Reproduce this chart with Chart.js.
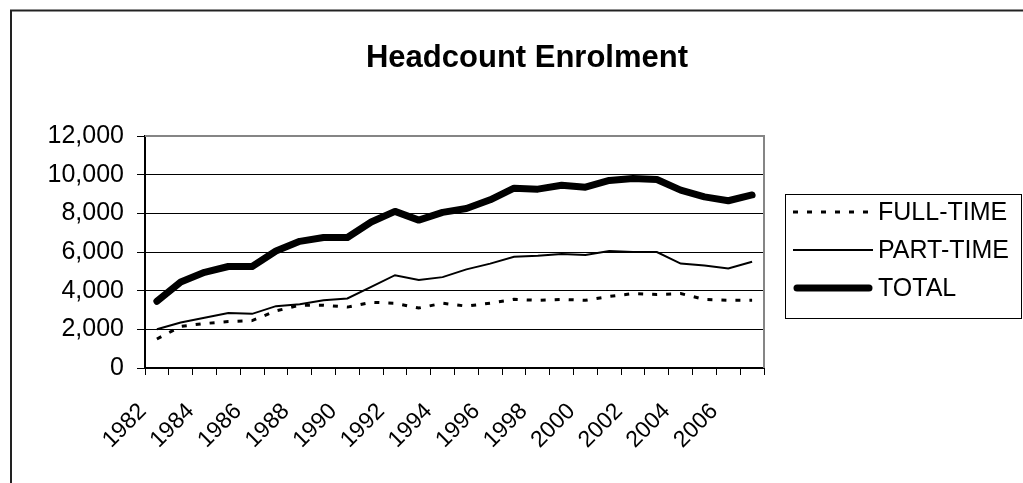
<!DOCTYPE html>
<html><head><meta charset="utf-8">
<script src="https://cdn.jsdelivr.net/npm/chart.js@4"></script>
<style>html,body{margin:0;padding:0;background:#fff;}canvas{display:block}</style>
</head><body>
<canvas id="c" width="1023" height="483"></canvas>
<script>
const years = ['1982','1983','1984','1985','1986','1987','1988','1989','1990','1991','1992','1993','1994','1995','1996','1997','1998','1999','2000','2001','2002','2003','2004','2005','2006','2007'];
const fullTime = [1500,2150,2300,2400,2450,2950,3250,3250,3150,3400,3350,3100,3350,3200,3350,3550,3500,3550,3500,3700,3850,3800,3850,3550,3500,3500];
const partTime = [2000,2350,2600,2850,2800,3200,3300,3500,3600,4200,4800,4550,4700,5100,5400,5750,5800,5900,5850,6050,6000,6000,5400,5300,5150,5500];
const total = [3450,4450,4950,5250,5250,6050,6550,6750,6750,7550,8100,7650,8050,8250,8700,9300,9250,9450,9350,9700,9800,9750,9200,8850,8650,8950];
const yTicks = [0,2000,4000,6000,8000,10000,12000];
const seriesNames = ['FULL-TIME','PART-TIME','TOTAL'];
const titleText = 'Headcount Enrolment';
const FONT = '"Liberation Sans", Arial, Helvetica, sans-serif';

const framePlugin = {
  id: 'frame',
  beforeDraw(chart) {
    const ctx = chart.ctx;
    ctx.save();
    ctx.fillStyle = '#fff';
    ctx.fillRect(0, 0, chart.width, chart.height);
    ctx.strokeStyle = '#222';
    ctx.lineWidth = 2;
    ctx.beginPath();
    ctx.moveTo(11, chart.height + 2);
    ctx.lineTo(11, 10.5);
    ctx.lineTo(chart.width + 2, 10.5);
    ctx.stroke();
    ctx.restore();
  },
  beforeDatasetsDraw(chart) {
    const a = chart.chartArea, ctx = chart.ctx;
    ctx.save();
    ctx.strokeStyle = '#858585';
    ctx.lineWidth = 2;
    ctx.beginPath();
    ctx.moveTo(a.left, a.top);
    ctx.lineTo(a.right, a.top);
    ctx.lineTo(a.right, a.bottom);
    ctx.stroke();
    ctx.restore();
  },
  afterDraw(chart) {
    const ctx = chart.ctx;
    ctx.save();
    ctx.fillStyle = '#000';
    ctx.font = 'bold 31px ' + FONT;
    ctx.textAlign = 'center';
    ctx.textBaseline = 'alphabetic';
    ctx.fillText(titleText, 527, 67);
    ctx.strokeStyle = '#000';
    ctx.lineWidth = 1;
    ctx.strokeRect(785.5, 194.5, 236, 124);
    ctx.font = '25px ' + FONT;
    ctx.textAlign = 'left';
    ctx.textBaseline = 'middle';
    chart.data.datasets.forEach((ds, i) => {
      const y = 212 + i * 38;
      ctx.save();
      ctx.strokeStyle = ds.borderColor;
      ctx.lineWidth = ds.borderWidth;
      ctx.lineCap = ds.borderCapStyle || 'butt';
      ctx.setLineDash(ds.borderDash || []);
      ctx.beginPath();
      ctx.moveTo(ds.borderCapStyle === 'round' ? 797 : 793, y);
      ctx.lineTo(ds.borderCapStyle === 'round' ? 869 : 873, y);
      ctx.stroke();
      ctx.restore();
      ctx.fillStyle = '#000';
      ctx.fillText(ds.label, 878, y + 1);
    });
    ctx.restore();
  }
};

new Chart(document.getElementById('c'), {
  type: 'line',
  data: {
    labels: years,
    datasets: [
      { label: seriesNames[0], data: fullTime, borderColor: '#000', borderWidth: 3, borderDash: [5, 9], pointRadius: 0, tension: 0, fill: false },
      { label: seriesNames[1], data: partTime, borderColor: '#000', borderWidth: 2, pointRadius: 0, tension: 0, fill: false },
      { label: seriesNames[2], data: total, borderColor: '#000', borderWidth: 7, borderCapStyle: 'round', borderJoinStyle: 'round', pointRadius: 0, tension: 0, fill: false }
    ]
  },
  options: {
    responsive: false,
    animation: false,
    devicePixelRatio: 1,
    layout: { padding: { left: 20, right: 259, top: 136, bottom: 0 } },
    plugins: { legend: { display: false }, title: { display: false }, tooltip: { enabled: false } },
    scales: {
      x: {
        offset: true,
        grid: { offset: true, drawOnChartArea: false, tickLength: 7, color: '#000', tickColor: '#000', lineWidth: 1 },
        border: { color: '#000', width: 2 },
        ticks: {
          autoSkip: false, minRotation: 45, maxRotation: 45, padding: 23, labelOffset: -14, color: '#000',
          font: { family: FONT, size: 23 },
          callback: (v, i) => (i % 2 === 0 ? years[i] : '')
        },
        afterFit: s => { s.height = 115; }
      },
      y: {
        min: 0, max: 12000,
        afterBuildTicks: s => { s.ticks = yTicks.map(v => ({ value: v })); },
        grid: {
          color: c => (c.tick && c.tick.value === 12000 ? 'rgba(0,0,0,0)' : '#000'),
          tickColor: '#000', lineWidth: 1, tickLength: 8
        },
        border: { color: '#000', width: 2 },
        ticks: {
          padding: 13, color: '#000', font: { family: FONT, size: 25 },
          callback: v => Number(v).toLocaleString('en-US')
        },
        afterFit: s => { s.width = 125; }
      }
    }
  },
  plugins: [framePlugin]
});
</script>
</body></html>
